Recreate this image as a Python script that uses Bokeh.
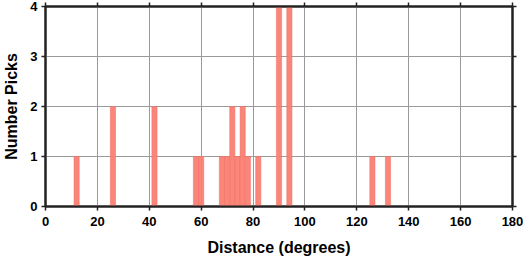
from bokeh.plotting import figure
from bokeh.models import LinearAxis, FixedTicker, Range1d, Grid, CustomLabelingPolicy
from bokeh.embed import file_html
from bokeh.resources import INLINE

# Histogram bins (degrees) and counts
bin_left = [11, 25, 41, 57, 59, 67, 69, 71, 73, 75, 77, 81, 89, 93, 125, 131]
bin_right = [13, 27, 43, 59, 61, 69, 71, 73, 75, 77, 79, 83, 91, 95, 127, 133]
counts = [1, 2, 2, 1, 1, 1, 1, 2, 1, 2, 1, 1, 4, 4, 1, 1]
x_ticks = [0, 20, 40, 60, 80, 100, 120, 140, 160, 180]
y_ticks = [0, 1, 2, 3, 4]

FONT = "Liberation Sans"

p = figure(width=523, height=258, output_backend="svg", toolbar_location=None,
           x_range=Range1d(0, 180), y_range=Range1d(0, 4),
           x_axis_location=None, y_axis_location=None,
           min_border_left=44, min_border_right=11, min_border_top=6, min_border_bottom=51)
p.center = []

p.add_layout(Grid(dimension=0, ticker=FixedTicker(ticks=x_ticks),
                  grid_line_color="#9a9a9a", grid_line_width=1, level="underlay"))
p.add_layout(Grid(dimension=1, ticker=FixedTicker(ticks=y_ticks),
                  grid_line_color="#9a9a9a", grid_line_width=1, level="underlay"))

p.quad(left=bin_left, right=bin_right, bottom=0, top=counts,
       fill_color="#fa8072", fill_alpha=0.95, line_color="#f26a5e", line_width=0.5)

def style(ax, labels=True):
    ax.axis_line_color = "#222222"
    ax.axis_line_width = 2
    ax.major_tick_line_color = "#222222"
    ax.major_tick_line_width = 1.5
    ax.major_tick_out = 4
    ax.major_tick_in = 0
    ax.minor_tick_line_color = None
    ax.major_label_text_font = FONT
    ax.major_label_text_font_style = "bold"
    ax.major_label_text_font_size = "13px"
    ax.major_label_text_color = "black"
    ax.axis_label_text_font = FONT
    ax.axis_label_text_font_style = "bold"
    ax.axis_label_text_font_size = "16px"
    ax.axis_label_text_color = "black"
    if not labels:
        ax.major_label_text_font_size = "0px"
        ax.major_label_standoff = 0
        ax.major_label_policy = CustomLabelingPolicy(code="if (false) { yield 0 }")

xb = LinearAxis(ticker=FixedTicker(ticks=x_ticks), axis_label="Distance (degrees)")
style(xb)
xb.major_label_standoff = 6
xb.axis_label_standoff = 10
p.add_layout(xb, "below")

yl = LinearAxis(ticker=FixedTicker(ticks=y_ticks), axis_label="Number Picks")
style(yl)
yl.major_label_standoff = 4
yl.axis_label_standoff = 7
yl.major_label_orientation = "horizontal"
p.add_layout(yl, "left")

xt = LinearAxis(ticker=FixedTicker(ticks=x_ticks))
style(xt, labels=False)
p.add_layout(xt, "above")

yr = LinearAxis(ticker=FixedTicker(ticks=y_ticks))
style(yr, labels=False)
p.add_layout(yr, "right")

p.outline_line_color = "#222222"
p.outline_line_width = 2
p.background_fill_color = "white"
p.border_fill_color = "white"

open("out.html", "w").write(file_html(p, INLINE))
